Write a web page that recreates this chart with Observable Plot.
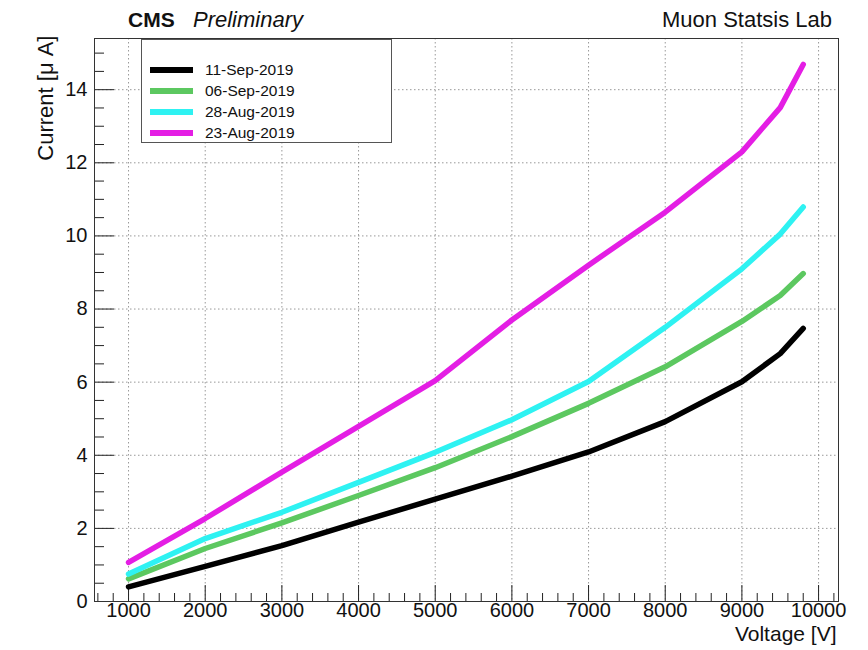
<!DOCTYPE html>
<html><head><meta charset="utf-8">
<script src="https://cdn.jsdelivr.net/npm/d3@7"></script>
<script src="https://cdn.jsdelivr.net/npm/@observablehq/plot@0.6"></script>
<style>
body{margin:0;background:#fff;font-family:"Liberation Sans",Arial,Helvetica,sans-serif;}
#wrap{position:relative;width:868px;height:650px;}
#chart{position:absolute;left:0;top:0;}
.hdr{position:absolute;font-size:21px;color:#111;white-space:nowrap;line-height:1;}
#legend{position:absolute;left:141px;top:39px;width:251px;height:104px;border:1px solid #555;background:#fff;box-sizing:border-box;}
.lrow{position:absolute;left:8px;height:20px;display:flex;align-items:center;font-size:15.5px;color:#111;}
.sw{width:43px;height:6px;margin-right:12px;}
</style>
</head><body>
<div id="wrap">
  <div id="chart"></div>
  <div class="hdr" style="left:128px;top:9px;font-weight:bold;">CMS</div>
  <div class="hdr" style="left:193px;top:9px;font-style:italic;font-size:22px;">Preliminary</div>
  <div class="hdr" style="right:36px;top:9px;font-size:22px;">Muon Statsis Lab</div>
  <div id="legend"></div>
</div>
<script>
const voltage = [1000, 2000, 3000, 4000, 5000, 6000, 7000, 8000, 9000, 9500, 9800];
const seriesNames = ["11-Sep-2019", "06-Sep-2019", "28-Aug-2019", "23-Aug-2019"];
const seriesColors = ["#000000", "#5cc860", "#2ef2f2", "#e41ee4"];
const current11Sep = [0.40, 0.96, 1.53, 2.17, 2.80, 3.43, 4.09, 4.92, 6.01, 6.78, 7.47];
const current06Sep = [0.62, 1.45, 2.15, 2.90, 3.66, 4.51, 5.42, 6.42, 7.66, 8.37, 8.97];
const current28Aug = [0.75, 1.72, 2.44, 3.26, 4.08, 4.97, 6.02, 7.50, 9.10, 10.05, 10.79];
const current23Aug = [1.07, 2.27, 3.54, 4.79, 6.04, 7.70, 9.20, 10.65, 12.30, 13.51, 14.69];
const xTicks = [1000, 2000, 3000, 4000, 5000, 6000, 7000, 8000, 9000, 10000];
const xMinorTicks = d3.range(600, 10201, 200).filter(v => v % 1000 !== 0);
const yTicks = [0, 2, 4, 6, 8, 10, 12, 14];
const yMinorTicks = d3.range(0.5, 15.4, 0.5).filter(v => v % 2 !== 0);
const xLabel = "Voltage [V]";
const yLabel = "Current [μ A]";

const allSeries = [current11Sep, current06Sep, current28Aug, current23Aug];
const data = [];
allSeries.forEach((vals, i) => vals.forEach((c, j) => data.push({series: seriesNames[i], voltage: voltage[j], current: c})));

const W = 868, H = 650, mL = 94, mR = 30, mT = 38, mB = 49;
const fw = W - mL - mR, fh = H - mT - mB;
const gridStyle = {stroke: "#777", strokeOpacity: 0.75, strokeDasharray: "1.5,2.5", strokeWidth: 1};

const chart = Plot.plot({
  width: W, height: H,
  marginLeft: mL, marginRight: mR, marginTop: mT, marginBottom: mB,
  style: {fontFamily: "'Liberation Sans', Arial, sans-serif", background: "white", overflow: "visible"},
  x: {domain: [556, 10260], axis: null},
  y: {domain: [0, 15.4], axis: null},
  color: {domain: seriesNames, range: seriesColors},
  marks: [
    Plot.gridX(xTicks, {...gridStyle}),
    Plot.gridY(yTicks, {...gridStyle}),
    Plot.tickX(xTicks, {x: d => d, stroke: "#222", insetTop: fh - 16}),
    Plot.tickX(xMinorTicks, {x: d => d, stroke: "#222", insetTop: fh - 8}),
    Plot.tickY(yTicks, {y: d => d, stroke: "#222", insetRight: fw - 20}),
    Plot.tickY(yMinorTicks, {y: d => d, stroke: "#222", insetRight: fw - 10}),
    Plot.line(data, {x: "voltage", y: "current", z: "series", stroke: "series", strokeWidth: 5.5, strokeLinejoin: "round"}),
    Plot.frame({stroke: "#333", strokeWidth: 1}),
    Plot.text(xTicks, {x: d => d, frameAnchor: "bottom", dy: 15, text: d => String(d), fontSize: 20, fill: "#111"}),
    Plot.text(yTicks, {y: d => d, frameAnchor: "left", dx: -7, textAnchor: "end", text: d => String(d), fontSize: 20, fill: "#111"}),
    Plot.text([xLabel], {frameAnchor: "bottom-right", dx: -2, dy: 39, textAnchor: "end", text: d => d, fontSize: 21, fill: "#111"}),
    Plot.text([yLabel], {frameAnchor: "top-left", dx: -57, dy: -3, rotate: -90, textAnchor: "end", text: d => d, fontSize: 22, fill: "#111"})
  ]
});
document.getElementById("chart").appendChild(chart);

const legend = document.getElementById("legend");
const rowTops = [20, 41, 62, 83];
seriesNames.forEach((name, i) => {
  const row = document.createElement("div");
  row.className = "lrow";
  row.style.top = rowTops[i] + "px";
  row.innerHTML = `<div class="sw" style="background:${seriesColors[i]}"></div><span>${name}</span>`;
  legend.appendChild(row);
});
</script>
</body></html>
